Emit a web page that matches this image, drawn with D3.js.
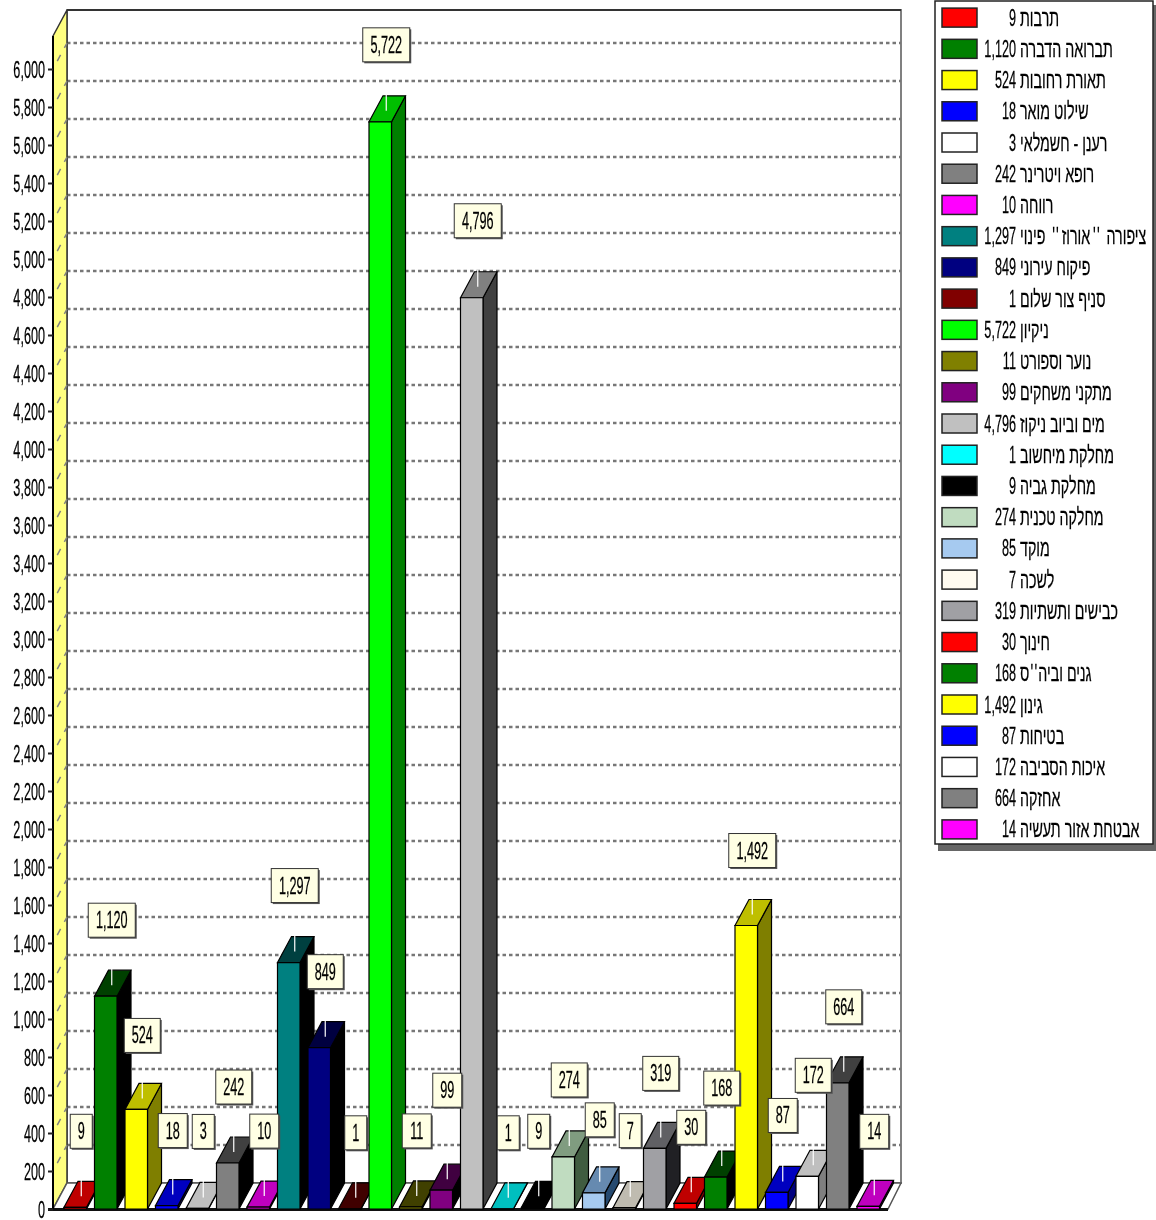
<!DOCTYPE html>
<html lang="he"><head><meta charset="utf-8">
<style>html,body{margin:0;padding:0;background:#fff}svg{display:block;filter:blur(.35px)}</style>
<script src="https://cdn.jsdelivr.net/npm/d3@7"></script></head><body>
<svg id="c" width="1156" height="1220"></svg>
<script>
const categories=["תרבות","תברואה הדברה","תאורת רחובות","שילוט מואר","רענן - חשמלאי","רופא ויטרינר","רווחה","ציפורה \u2009'\u200a'\u2009אורוז\u2009'\u200a'\u2009 פינוי","פיקוח עירוני","סניף צור שלום","ניקיון","נוער וספורט","מתקני משחקים","מים וביוב ניקוז","מחלקת מיחשוב","מחלקת גביה","מחלקה טכנית","מוקד","לשכה","כבישים ותשתיות","חינוך","גנים וביה\u200a'\u200a'\u200aס","גינון","בטיחות","איכות הסביבה","אחזקה","אבטחת אזור תעשיה"];
const values=[9,1120,524,18,3,242,10,1297,849,1,5722,11,99,4796,1,9,274,85,7,319,30,168,1492,87,172,664,14];
const palette=["#ff0000","#008000","#ffff00","#0000ff","#ffffff","#808080","#ff00ff","#008080","#000080","#800000","#00ff00","#808000","#800080","#c0c0c0","#00ffff","#000000","#c0dcc0","#a6caf0","#fffbf0","#a0a0a4"];
const tickValues=d3.range(0,6001,200);
// how far each value box sits above its bar top
const labelLift=[76,76,74,75,77,76,76,77,76,76,77,76,100,77,76,76,77,73,77,75,76,89,75,77,101,76,75];

const svg=d3.select("#c");
const FONT="'Liberation Sans',Arial,sans-serif";
const dx=14,dy=-26;
const y=d3.scaleLinear().domain([0,6000]).range([1209,69]);
const x=d3.scaleBand().domain(d3.range(27)).range([60,883.5]).paddingInner(0.262).paddingOuter(0.131);
const fmt=d3.format(",");
const color=i=>palette[i%palette.length];
const shade=(c,k)=>{const r=d3.rgb(c);return d3.rgb(Math.max(0,r.r-k),Math.max(0,r.g-k),Math.max(0,r.b-k)).formatHex()};
const poly=(pts,fill,stroke="#000",sw=1)=>svg.append("polygon").attr("points",pts.map(p=>p.join(",")).join(" ")).attr("fill",fill).attr("stroke",stroke).attr("stroke-width",sw);
const txt=(t,tx,ty,sx,anchor)=>svg.append("text").text(t).attr("transform",`translate(${tx},${ty}) scale(${sx},1)`).attr("text-anchor",anchor).attr("font-family",FONT).attr("font-size",23).attr("fill","#000").attr("stroke","#000").attr("stroke-width",.25);
const xL=53,xR=888,yB=1209,yT=36;
// back wall
poly([[xL+dx,yT+dy],[xR+dx-1,yT+dy],[xR+dx-1,yB+dy],[xL+dx,yB+dy]],"#fff","#808080",2);
svg.append("line").attr("x1",xL+dx).attr("x2",xR+dx-1).attr("y1",yT+dy).attr("y2",yT+dy).attr("stroke","#333").attr("stroke-width",2);
// gridlines on wall
svg.append("g").selectAll("line").data(tickValues.slice(1)).join("line")
 .attr("x1",xL+dx).attr("x2",xR+dx-1).attr("y1",d=>y(d)+dy).attr("y2",d=>y(d)+dy)
 .attr("stroke","#777").attr("stroke-width",2.5).attr("stroke-dasharray","3.5 3");
// side wall
poly([[xL,yT],[xL+dx,yT+dy],[xL+dx,yB+dy],[xL,yB]],"#ffff80","#333",1.5);
svg.append("g").selectAll("line").data(tickValues).join("line")
 .attr("x1",xL).attr("x2",xL+dx).attr("y1",d=>y(d)).attr("y2",d=>y(d)+dy)
 .attr("stroke","#808080").attr("stroke-width",1.5).attr("stroke-dasharray","7 8 7 20").attr("stroke-dashoffset",-9);
// floor
poly([[xL,yB],[xL+dx,yB+dy],[xR+dx-1,yB+dy],[xR,yB]],"#fff","#555",1.5);
svg.append("line").attr("x1",xL-5).attr("x2",xR).attr("y1",yB+.5).attr("y2",yB+.5).attr("stroke","#111").attr("stroke-width",3);
// axis
const axis=svg.append("g").attr("transform",`translate(${xL},0)`).call(d3.axisLeft(y).tickValues(tickValues).tickFormat(fmt).tickSize(5).tickPadding(3));
axis.select(".domain").attr("stroke","#000").attr("stroke-width",2).attr("d",`M0,${yT}V${yB}`);
axis.selectAll("line").attr("stroke","#222").attr("stroke-width",2);
axis.selectAll("text").attr("text-anchor","end").attr("x",null).attr("dy",null).attr("y",null)
   .attr("transform","translate(-8,8) scale(.55,1)")
   .attr("font-family",FONT).attr("font-size",23).attr("fill","#000").attr("stroke","#000").attr("stroke-width",.25);
// bars, back to front
values.forEach((v,i)=>{
  const c=color(i),x0=x(i),w=x.bandwidth(),yt=y(v);
  poly([[x0+w,yt],[x0+w+dx,yt+dy],[x0+w+dx,yB+dy],[x0+w,yB]],shade(c,128),"#000",1.2);
  poly([[x0,yt],[x0+dx,yt+dy],[x0+w+dx,yt+dy],[x0+w,yt]],shade(c,64),"#000",1.2);
  poly([[x0,yt],[x0+w,yt],[x0+w,yB],[x0,yB]],c,"#000",1.2);
});
// white leader stubs
values.forEach((v,i)=>{
  const cx=x(i)+x.bandwidth()/2+6,top=y(v)+dy;
  svg.append("line").attr("x1",cx).attr("x2",cx).attr("y1",top-2).attr("y2",top+15).attr("stroke","#fff").attr("stroke-width",1.2);
});
// value boxes
values.forEach((v,i)=>{
  const cx=x(i)+x.bandwidth()/2+6,cy=y(v)-labelLift[i];
  const t=fmt(v),bw=t.length>3?47:t.length*7+15,bh=34;
  svg.append("rect").attr("x",cx-bw/2+1.5).attr("y",cy-bh/2+1.5).attr("width",bw).attr("height",bh).attr("fill","#555");
  svg.append("rect").attr("x",cx-bw/2).attr("y",cy-bh/2).attr("width",bw).attr("height",bh).attr("fill","#ffffe4").attr("stroke","#333").attr("stroke-width",1);
  txt(t,cx,cy+8,.55,"middle");
});
// legend
svg.append("rect").attr("x",938).attr("y",5).attr("width",218).attr("height",846).attr("fill","#666");
svg.append("rect").attr("x",935).attr("y",1).attr("width",218).attr("height",843).attr("fill","#fff").attr("stroke","#222").attr("stroke-width",1.5);
const ly=d3.scaleBand().domain(d3.range(27)).range([2,845]);
categories.forEach((n,i)=>{
  const cy=ly(i)+ly.bandwidth()/2;
  svg.append("rect").attr("x",942).attr("y",cy-9.5).attr("width",35).attr("height",19).attr("fill",color(i)).attr("stroke","#222").attr("stroke-width",1.5);
  txt(fmt(values[i]),1016,cy+8,.55,"end");
  txt(n,1020,cy+8,.62,"start");
});
</script></body></html>
